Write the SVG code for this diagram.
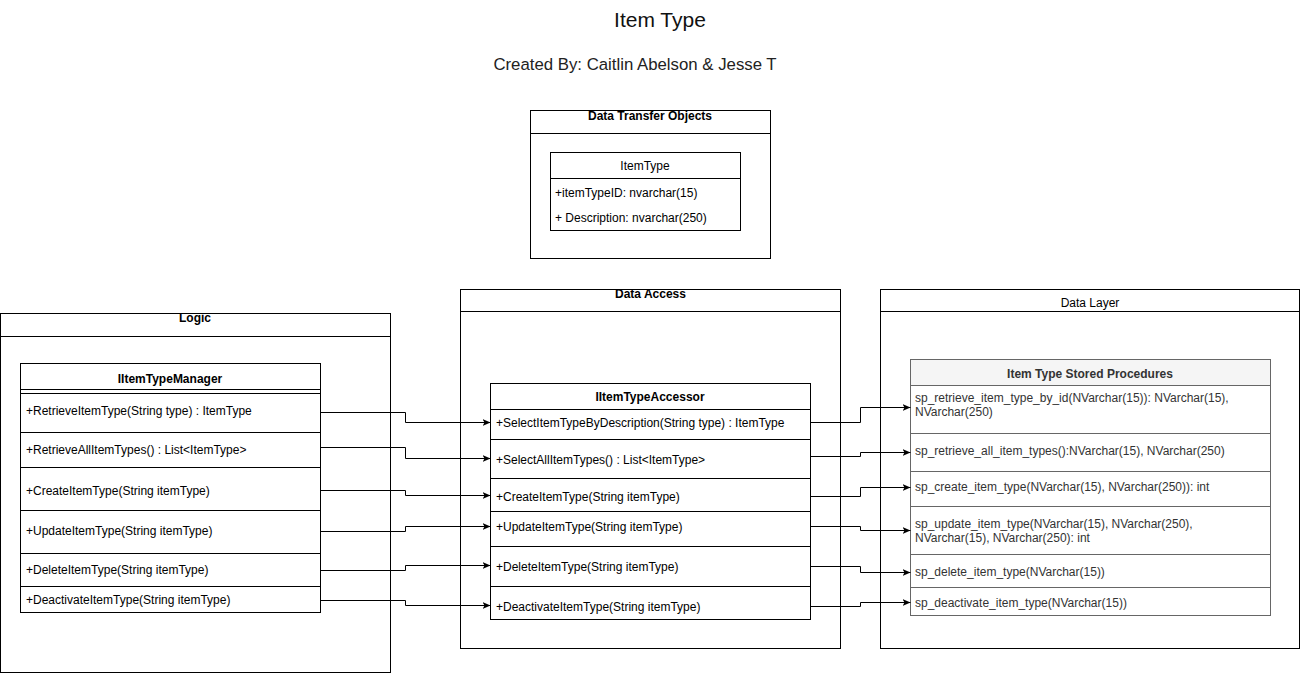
<svg xmlns="http://www.w3.org/2000/svg" width="1301" height="674" viewBox="0 0 1301 674">
<defs>
<style>
text{font-family:"Liberation Sans",Arial,sans-serif;font-size:12px;fill:#000}
.b{font-weight:bold}
.c{text-anchor:middle}
.box{fill:#fff;stroke:#000;stroke-width:1}
.ln{stroke:#000;stroke-width:1;fill:none}
.sp{fill:#fff;stroke:#666;stroke-width:1}
.sph{fill:#f5f5f5;stroke:#666;stroke-width:1}
.spl{stroke:#666;stroke-width:1}
.spt{fill:#333}
.conn{stroke:#000;stroke-width:1;fill:none;marker-end:url(#arr)}
</style>
<marker id="arr" markerUnits="userSpaceOnUse" markerWidth="10" markerHeight="10" viewBox="0 0 10 10" refX="8" refY="4" orient="auto">
<path d="M0,0.5 L8,4 L0,7.5 L2,4 z" fill="#000"/>
</marker>
</defs>
<rect width="1301" height="674" fill="#fff"/>

<g id="title">
<text x="660" y="27" class="c" style="font-size:21px;fill:#111">Item Type</text>
<text x="635" y="70" class="c" style="font-size:16.8px;fill:#222">Created By: Caitlin Abelson &amp; Jesse T</text>
</g>

<g id="dto">
<rect class="box" x="530.5" y="110.5" width="240" height="148"/>
<line class="ln" x1="530.5" y1="133.5" x2="770.5" y2="133.5"/>
<text x="650" y="120" class="c b">Data Transfer Objects</text>
</g>
<g id="itemtype">
<rect class="box" x="550.5" y="152.5" width="190" height="78"/>
<line class="ln" x1="550.5" y1="178.5" x2="740.5" y2="178.5"/>
<text x="645" y="170" class="c">ItemType</text>
<text x="555" y="197">+itemTypeID: nvarchar(15)</text>
<text x="555" y="222">+ Description: nvarchar(250)</text>
</g>

<g id="logic">
<rect class="box" x="0.5" y="313.5" width="390" height="359"/>
<line class="ln" x1="0.5" y1="336.5" x2="390.5" y2="336.5"/>
<text x="195" y="322" class="c b">Logic</text>
</g>
<g id="manager">
<rect class="box" x="20.5" y="363.5" width="300" height="249"/>
<line class="ln" x1="20.5" y1="389.5" x2="320.5" y2="389.5"/>
<line class="ln" x1="20.5" y1="393.5" x2="320.5" y2="393.5"/>
<line class="ln" x1="20.5" y1="432.5" x2="320.5" y2="432.5"/>
<line class="ln" x1="20.5" y1="467.5" x2="320.5" y2="467.5"/>
<line class="ln" x1="20.5" y1="510.5" x2="320.5" y2="510.5"/>
<line class="ln" x1="20.5" y1="553.5" x2="320.5" y2="553.5"/>
<line class="ln" x1="20.5" y1="586.5" x2="320.5" y2="586.5"/>
<text x="170" y="383" class="c b">IItemTypeManager</text>
<text x="26" y="415">+RetrieveItemType(String type) : ItemType</text>
<text x="26" y="454">+RetrieveAllItemTypes() : List&lt;ItemType&gt;</text>
<text x="26" y="495">+CreateItemType(String itemType)</text>
<text x="26" y="535">+UpdateItemType(String itemType)</text>
<text x="26" y="574">+DeleteItemType(String itemType)</text>
<text x="26" y="604">+DeactivateItemType(String itemType)</text>
</g>

<g id="dataaccess">
<rect class="box" x="460.5" y="289.5" width="380" height="359"/>
<line class="ln" x1="460.5" y1="311.5" x2="840.5" y2="311.5"/>
<text x="650.5" y="298" class="c b">Data Access</text>
</g>
<g id="accessor">
<rect class="box" x="490.5" y="383.5" width="320" height="236"/>
<line class="ln" x1="490.5" y1="409.5" x2="810.5" y2="409.5"/>
<line class="ln" x1="490.5" y1="439.5" x2="810.5" y2="439.5"/>
<line class="ln" x1="490.5" y1="478.5" x2="810.5" y2="478.5"/>
<line class="ln" x1="490.5" y1="511.5" x2="810.5" y2="511.5"/>
<line class="ln" x1="490.5" y1="546.5" x2="810.5" y2="546.5"/>
<line class="ln" x1="490.5" y1="586.5" x2="810.5" y2="586.5"/>
<text x="650" y="401" class="c b">IItemTypeAccessor</text>
<text x="496" y="427">+SelectItemTypeByDescription(String type) : ItemType</text>
<text x="496" y="464">+SelectAllItemTypes() : List&lt;ItemType&gt;</text>
<text x="496" y="501">+CreateItemType(String itemType)</text>
<text x="496" y="531">+UpdateItemType(String itemType)</text>
<text x="496" y="571">+DeleteItemType(String itemType)</text>
<text x="496" y="611">+DeactivateItemType(String itemType)</text>
</g>

<g id="datalayer">
<rect class="box" x="880.5" y="289.5" width="419" height="359"/>
<line class="ln" x1="880.5" y1="311.5" x2="1299.5" y2="311.5"/>
<text x="1090" y="307" class="c">Data Layer</text>
</g>
<g id="storedprocs">
<rect class="sp" x="910.5" y="359.5" width="360" height="256"/>
<rect class="sph" x="910.5" y="359.5" width="360" height="26"/>
<line class="spl" x1="910.5" y1="433.5" x2="1270.5" y2="433.5"/>
<line class="spl" x1="910.5" y1="471.5" x2="1270.5" y2="471.5"/>
<line class="spl" x1="910.5" y1="506.5" x2="1270.5" y2="506.5"/>
<line class="spl" x1="910.5" y1="554.5" x2="1270.5" y2="554.5"/>
<line class="spl" x1="910.5" y1="587.5" x2="1270.5" y2="587.5"/>
<text x="1090" y="378" class="c b spt">Item Type Stored Procedures</text>
<text x="915" y="402" class="spt">sp_retrieve_item_type_by_id(NVarchar(15)): NVarchar(15),</text>
<text x="915" y="416" class="spt">NVarchar(250)</text>
<text x="915" y="455" class="spt">sp_retrieve_all_item_types():NVarchar(15), NVarchar(250)</text>
<text x="915" y="491" class="spt">sp_create_item_type(NVarchar(15), NVarchar(250)): int</text>
<text x="915" y="528" class="spt">sp_update_item_type(NVarchar(15), NVarchar(250),</text>
<text x="915" y="542" class="spt">NVarchar(15), NVarchar(250): int</text>
<text x="915" y="576" class="spt">sp_delete_item_type(NVarchar(15))</text>
<text x="915" y="607" class="spt">sp_deactivate_item_type(NVarchar(15))</text>
</g>

<g id="connectors">
<polyline class="conn" points="320.5,412.5 405.5,412.5 405.5,422.5 490.5,422.5"/>
<polyline class="conn" points="320.5,447.5 405.5,447.5 405.5,458.5 490.5,458.5"/>
<polyline class="conn" points="320.5,490.5 405.5,490.5 405.5,495.5 490.5,495.5"/>
<polyline class="conn" points="320.5,531.5 405.5,531.5 405.5,526.5 490.5,526.5"/>
<polyline class="conn" points="320.5,570.5 405.5,570.5 405.5,565.5 490.5,565.5"/>
<polyline class="conn" points="320.5,600.5 405.5,600.5 405.5,605.5 490.5,605.5"/>
<polyline class="conn" points="810.5,422.5 860.5,422.5 860.5,407.5 910.5,407.5"/>
<polyline class="conn" points="810.5,456.5 860.5,456.5 860.5,452.5 910.5,452.5"/>
<polyline class="conn" points="810.5,496.5 860.5,496.5 860.5,487.5 910.5,487.5"/>
<polyline class="conn" points="810.5,526.5 860.5,526.5 860.5,530.5 910.5,530.5"/>
<polyline class="conn" points="810.5,566.5 860.5,566.5 860.5,572.5 910.5,572.5"/>
<polyline class="conn" points="810.5,606.5 860.5,606.5 860.5,602.5 910.5,602.5"/>
</g>
</svg>
